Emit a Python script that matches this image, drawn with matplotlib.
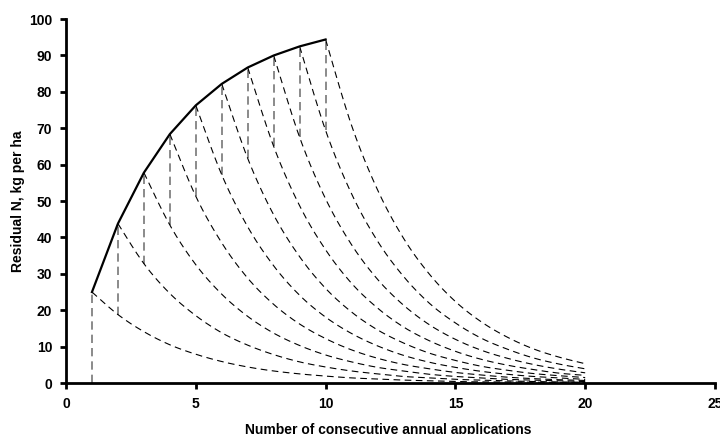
import matplotlib.pyplot as plt
import numpy as np

# years when each application's residue curve starts
start_years = [1, 2, 3, 4, 5, 6, 7, 8, 9, 10]

# accumulated residual N peaks (solid line)
peaks = [25.0, 43.8, 57.8, 68.4, 76.3, 82.2, 86.7, 90.0, 92.5, 94.4]

# decay curves, one per application year, values from start year to year 20
curve_1 = [25.0, 18.8, 14.1, 10.5, 7.9, 5.9, 4.4, 3.3, 2.5, 1.9, 1.4, 1.1, 0.8, 0.6, 0.4, 0.3, 0.3, 0.2, 0.1, 0.1]
curve_2 = [43.8, 32.8, 24.6, 18.5, 13.8, 10.4, 7.8, 5.8, 4.4, 3.3, 2.5, 1.8, 1.4, 1.0, 0.8, 0.6, 0.4, 0.3, 0.2]
curve_3 = [57.8, 43.4, 32.5, 24.4, 18.3, 13.7, 10.3, 7.7, 5.8, 4.3, 3.3, 2.4, 1.8, 1.4, 1.0, 0.8, 0.6, 0.4]
curve_4 = [68.4, 51.3, 38.5, 28.8, 21.6, 16.2, 12.2, 9.1, 6.8, 5.1, 3.9, 2.9, 2.2, 1.6, 1.2, 0.9, 0.7]
curve_5 = [76.3, 57.2, 42.9, 32.2, 24.1, 18.1, 13.6, 10.2, 7.6, 5.7, 4.3, 3.2, 2.4, 1.8, 1.4, 1.0]
curve_6 = [82.2, 61.7, 46.2, 34.7, 26.0, 19.5, 14.6, 11.0, 8.2, 6.2, 4.6, 3.5, 2.6, 2.0, 1.5]
curve_7 = [86.7, 65.0, 48.7, 36.6, 27.4, 20.6, 15.4, 11.6, 8.7, 6.5, 4.9, 3.7, 2.7, 2.1]
curve_8 = [90.0, 67.5, 50.6, 38.0, 28.5, 21.4, 16.0, 12.0, 9.0, 6.8, 5.1, 3.8, 2.8]
curve_9 = [92.5, 69.4, 52.0, 39.0, 29.3, 21.9, 16.5, 12.3, 9.3, 6.9, 5.2, 3.9]
curve_10 = [94.4, 70.8, 53.1, 39.8, 29.9, 22.4, 16.8, 12.6, 9.4, 7.1, 5.3]

curves = [curve_1, curve_2, curve_3, curve_4, curve_5,
          curve_6, curve_7, curve_8, curve_9, curve_10]


def smooth(xs, ys, n=12):
    # catmull-rom style smoothing like excel's smoothed line
    xs = np.asarray(xs, float)
    ys = np.asarray(ys, float)
    px = np.concatenate([[xs[0]], xs, [xs[-1]]])
    py = np.concatenate([[ys[0]], ys, [ys[-1]]])
    ox, oy = [], []
    t = np.linspace(0, 1, n, endpoint=False)
    for i in range(1, len(px) - 2):
        for p, out in ((px, ox), (py, oy)):
            p0, p1, p2, p3 = p[i - 1], p[i], p[i + 1], p[i + 2]
            out.extend(0.5 * ((2 * p1) + (-p0 + p2) * t
                              + (2 * p0 - 5 * p1 + 4 * p2 - p3) * t ** 2
                              + (-p0 + 3 * p1 - 3 * p2 + p3) * t ** 3))
    ox.append(xs[-1])
    oy.append(ys[-1])
    return ox, oy


plt.rcParams['font.family'] = ['Liberation Sans', 'DejaVu Sans']
plt.rcParams['font.weight'] = 'bold'

fig = plt.figure(figsize=(7.2, 4.34), dpi=100)
ax = fig.add_axes([0.0917, 0.1175, 0.9013, 0.8385])

# vertical jumps at each new application
for i, yr in enumerate(start_years):
    low = 0 if i == 0 else curves[i - 1][1]
    ax.plot([yr, yr], [low, peaks[i]], color='#777777', lw=1.2,
            dashes=(5, 3), zorder=2)

# decay curves
for yr, c in zip(start_years, curves):
    xs = list(range(yr, yr + len(c)))
    sx, sy = smooth(xs, c)
    ax.plot(sx, sy, color='black', lw=0.8, dashes=(6, 4), zorder=3)

# peaks line
ax.plot(start_years, peaks, color='black', lw=1.6, zorder=4)

ax.set_xlim(0, 25)
ax.set_ylim(0, 100)
ax.set_xticks(range(0, 26, 5))
ax.set_yticks(range(0, 101, 10))
ax.spines['top'].set_visible(False)
ax.spines['right'].set_visible(False)
ax.spines['left'].set_linewidth(2)
ax.spines['bottom'].set_linewidth(2)
ax.tick_params(direction='out', length=4, width=2, labelsize=10, pad=6)

ax.set_xlabel('Number of consecutive annual applications', fontsize=10,
              fontweight='bold')
ax.set_ylabel('Residual N, kg per ha', fontsize=10, fontweight='bold')
ax.xaxis.set_label_coords(0.497, -0.11)
ax.yaxis.set_label_coords(-0.063, 0.5)

fig.savefig('out.png', dpi=100)
